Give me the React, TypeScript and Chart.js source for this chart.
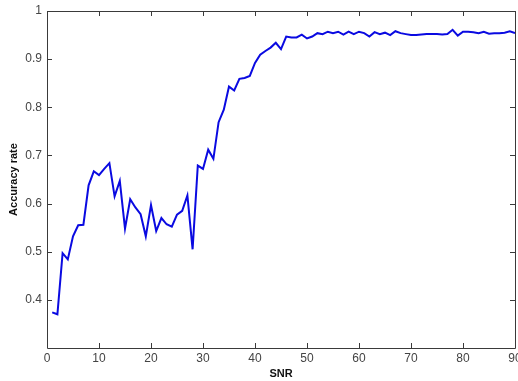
import React, { useEffect, useRef } from "react";
import { Chart, registerables } from "chart.js";

Chart.register(...registerables);

const snr = [
  1, 2, 3, 4, 5, 6, 7, 8, 9, 10, 11, 12, 13, 14, 15, 16, 17, 18, 19, 20,
  21, 22, 23, 24, 25, 26, 27, 28, 29, 30, 31, 32, 33, 34, 35, 36, 37, 38, 39, 40,
  41, 42, 43, 44, 45, 46, 47, 48, 49, 50, 51, 52, 53, 54, 55, 56, 57, 58, 59, 60,
  61, 62, 63, 64, 65, 66, 67, 68, 69, 70, 71, 72, 73, 74, 75, 76, 77, 78, 79, 80,
  81, 82, 83, 84, 85, 86, 87, 88, 89, 90,
];

const accuracy = [
  0.374, 0.370, 0.497, 0.484, 0.532, 0.555, 0.556, 0.638, 0.667, 0.659,
  0.672, 0.684, 0.615, 0.647, 0.548, 0.609, 0.592, 0.578, 0.532, 0.597,
  0.543, 0.570, 0.557, 0.552, 0.577, 0.585, 0.617, 0.505, 0.679, 0.672,
  0.712, 0.693, 0.769, 0.795, 0.843, 0.835, 0.859, 0.861, 0.865, 0.892,
  0.909, 0.917, 0.924, 0.934, 0.921, 0.947, 0.945, 0.945, 0.951, 0.943,
  0.947, 0.954, 0.952, 0.957, 0.954, 0.957, 0.951, 0.957, 0.952, 0.957,
  0.954, 0.947, 0.956, 0.952, 0.955, 0.950, 0.958, 0.954, 0.952, 0.950,
  0.950, 0.951, 0.952, 0.952, 0.952, 0.951, 0.952, 0.961, 0.949, 0.957,
  0.957, 0.956, 0.954, 0.957, 0.953, 0.954, 0.954, 0.955, 0.958, 0.954,
];

const xTicks = [0, 10, 20, 30, 40, 50, 60, 70, 80, 90];
const yTicks = [0.4, 0.5, 0.6, 0.7, 0.8, 0.9, 1.0];

const AXIS_COLOR = "#3a3a3a";
const TICK_LEN = 5;

const boxPlugin = {
  id: "matlabBox",
  afterDatasetsDraw(chart: any) {
    const { ctx, chartArea } = chart;
    const { left, right, top, bottom } = chartArea;
    const xs = chart.scales.x;
    const ys = chart.scales.y;
    ctx.save();
    ctx.strokeStyle = AXIS_COLOR;
    ctx.lineWidth = 1;
    ctx.beginPath();
    ctx.rect(Math.round(left) + 0.5, Math.round(top) + 0.5, Math.round(right - left), Math.round(bottom - top));
    ctx.stroke();
    ctx.beginPath();
    xs.ticks.forEach((t: any) => {
      const px = Math.round(xs.getPixelForValue(t.value)) + 0.5;
      ctx.moveTo(px, bottom);
      ctx.lineTo(px, bottom - TICK_LEN);
      ctx.moveTo(px, top);
      ctx.lineTo(px, top + TICK_LEN);
    });
    ys.ticks.forEach((t: any) => {
      const py = Math.round(ys.getPixelForValue(t.value)) + 0.5;
      ctx.moveTo(left, py);
      ctx.lineTo(left + TICK_LEN, py);
      ctx.moveTo(right, py);
      ctx.lineTo(right - TICK_LEN, py);
    });
    ctx.stroke();
    ctx.restore();
  },
};

export default function App() {
  const ref = useRef<HTMLCanvasElement | null>(null);

  useEffect(() => {
    if (!ref.current) return;
    const chart = new Chart(ref.current, {
      type: "line",
      data: {
        datasets: [
          {
            data: snr.map((x, i) => ({ x, y: accuracy[i] })),
            borderColor: "rgb(10,10,225)",
            borderWidth: 2,
            pointRadius: 0,
            tension: 0,
            fill: false,
          },
        ],
      },
      options: {
        responsive: false,
        animation: false,
        devicePixelRatio: 1,
        layout: { padding: { top: 11, right: 3, left: 0, bottom: 0 } },
        plugins: {
          legend: { display: false },
          tooltip: { enabled: false },
        },
        scales: {
          x: {
            type: "linear",
            min: 0,
            max: 90,
            grid: { display: false, drawTicks: false },
            border: { display: false },
            afterBuildTicks: (scale: any) => {
              scale.ticks = xTicks.map((v) => ({ value: v }));
            },
            afterFit: (scale: any) => {
              scale.height = 33;
              scale.paddingLeft = 0;
              scale.paddingRight = 0;
            },
            ticks: {
              padding: 3,
              color: "#444",
              font: { family: "'Liberation Sans', Arial, sans-serif", size: 12 },
              maxRotation: 0,
              autoSkip: false,
              callback: (v: any) => String(v),
            },
            title: {
              display: true,
              text: "SNR",
              color: "#111",
              padding: { top: 0, bottom: 0 },
              font: { family: "'Liberation Sans', Arial, sans-serif", size: 11, weight: "bold" },
            },
          },
          y: {
            type: "linear",
            min: 0.3,
            max: 1.0,
            grid: { display: false, drawTicks: false },
            border: { display: false },
            afterBuildTicks: (scale: any) => {
              scale.ticks = yTicks.map((v) => ({ value: v }));
            },
            afterFit: (scale: any) => {
              scale.width = 47;
              scale.paddingTop = 0;
              scale.paddingBottom = 0;
            },
            ticks: {
              padding: 5,
              color: "#444",
              font: { family: "'Liberation Sans', Arial, sans-serif", size: 12 },
              autoSkip: false,
              callback: (v: any) => String(+Number(v).toFixed(1)),
            },
            title: {
              display: true,
              text: "Accuracy rate",
              color: "#111",
              padding: { top: 7, bottom: 0 },
              font: { family: "'Liberation Sans', Arial, sans-serif", size: 11, weight: "bold" },
            },
          },
        },
      },
      plugins: [boxPlugin],
    } as any);
    return () => chart.destroy();
  }, []);

  return (
    <div style={{ position: "fixed", left: 0, top: 0, width: 518, height: 381, background: "#fff" }}>
      <canvas ref={ref} width={518} height={381} style={{ display: "block" }} />
    </div>
  );
}
